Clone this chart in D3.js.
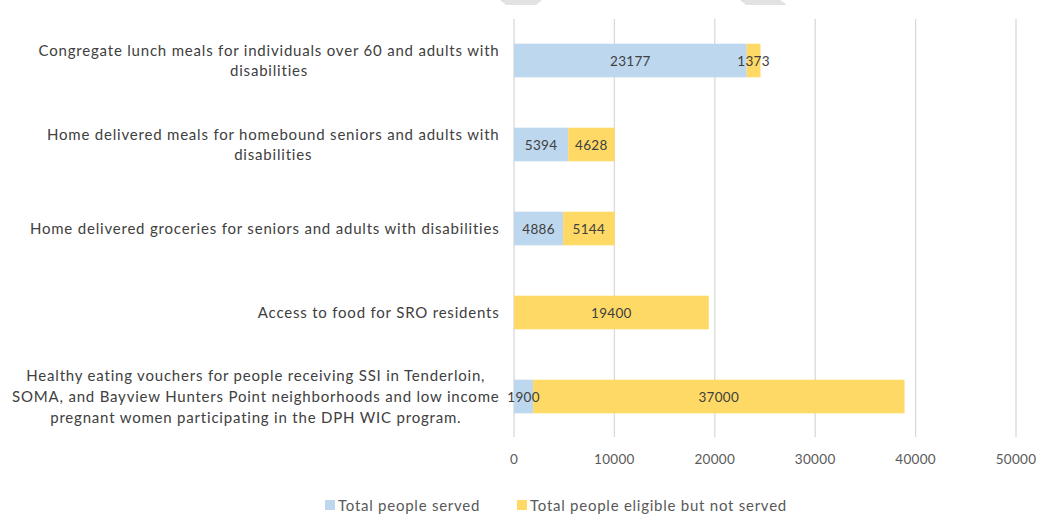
<!DOCTYPE html>
<html>
<head>
<meta charset="utf-8">
<script src="https://cdn.jsdelivr.net/npm/d3@7"></script>
<style>
  body { margin: 0; background: #fff; }
  svg { font-family: "Lato", "Open Sans", sans-serif; }
</style>
</head>
<body>
<svg id="chart" width="1047" height="518"></svg>
<script>
// categories, one array of lines per label
var categories = [
  ["Congregate lunch meals for individuals over 60 and adults with", "disabilities"],
  ["Home delivered meals for homebound seniors and adults with", "disabilities"],
  ["Home delivered groceries for seniors and adults with disabilities"],
  ["Access to food for SRO residents"],
  ["Healthy eating vouchers for people receiving SSI in Tenderloin,", "SOMA, and Bayview Hunters Point neighborhoods and low income", "pregnant women participating in the DPH WIC program."]
];
var served = [23177, 5394, 4886, 0, 1900];
var notServed = [1373, 4628, 5144, 19400, 37000];
var xTicks = [0, 10000, 20000, 30000, 40000, 50000];
var seriesNames = ["Total people served", "Total people eligible but not served"];
var colors = ["#BDD7EE", "#FFD966"];

var svg = d3.select("#chart");

// faint grey shapes at the top edge of the capture
svg.append("polygon").attr("points", "500,0 542,0 536,5 506,5").attr("fill", "#e2e2e2");
svg.append("polygon").attr("points", "740,0 780,0 787,5 746,5").attr("fill", "#e2e2e2");

var x = d3.scaleLinear().domain([0, 50000]).range([514, 1016]);
var y = d3.scaleBand().domain(d3.range(categories.length)).range([18.5, 438.5]).paddingInner(0.6).paddingOuter(0.3);

// gridlines
svg.append("g").selectAll("line")
  .data(xTicks)
  .enter().append("line")
  .attr("x1", function(d) { return x(d); })
  .attr("x2", function(d) { return x(d); })
  .attr("y1", 19)
  .attr("y2", 437)
  .attr("stroke", "#d9d9d9")
  .attr("stroke-width", 1.3);

// tick labels
svg.append("g").selectAll("text")
  .data(xTicks)
  .enter().append("text")
  .attr("x", function(d) { return x(d); })
  .attr("y", 464)
  .attr("text-anchor", "middle")
  .attr("font-size", 13.5)
  .attr("letter-spacing", 0.3)
  .attr("fill", "#595959")
  .text(function(d) { return d; });

// stacked bars
var rows = categories.map(function(c, i) {
  return [
    { i: i, x0: 0, x1: served[i], v: served[i], s: 0 },
    { i: i, x0: served[i], x1: served[i] + notServed[i], v: notServed[i], s: 1 }
  ];
});
var segs = [].concat.apply([], rows).filter(function(d) { return d.v > 0; });

svg.append("g").selectAll("rect")
  .data(segs)
  .enter().append("rect")
  .attr("x", function(d) { return x(d.x0); })
  .attr("width", function(d) { return x(d.x1) - x(d.x0); })
  .attr("y", function(d) { return y(d.i); })
  .attr("height", y.bandwidth())
  .attr("fill", function(d) { return colors[d.s]; });

svg.append("g").selectAll("text")
  .data(segs)
  .enter().append("text")
  .attr("x", function(d) { return (x(d.x0) + x(d.x1)) / 2; })
  .attr("y", function(d) { return y(d.i) + y.bandwidth() / 2 + 5; })
  .attr("text-anchor", "middle")
  .attr("font-size", 13.5)
  .attr("letter-spacing", 0.3)
  .attr("fill", "#404040")
  .text(function(d) { return d.v; });

// category labels: centered block, right edge at 500
var labels = svg.append("g");
categories.forEach(function(lines, i) {
  var g = labels.append("g");
  var lh = lines.length > 2 ? 21 : 20;
  var cy = y(i) + y.bandwidth() / 2;
  var t = g.selectAll("text")
    .data(lines)
    .enter().append("text")
    .attr("y", function(d, k) { return cy + 5 + (k - (lines.length - 1) / 2) * lh; })
    .attr("text-anchor", "middle")
    .attr("font-size", 15)
    .attr("letter-spacing", 0.8)
    .attr("fill", "#404040")
    .text(function(d) { return d; });
  var w = 0;
  t.each(function() { w = Math.max(w, this.getComputedTextLength()); });
  t.attr("x", 499.5 - w / 2);
});

// legend
var leg = svg.append("g");
var legX = [325, 517];
seriesNames.forEach(function(n, i) {
  leg.append("rect").attr("x", legX[i]).attr("y", 500).attr("width", 10).attr("height", 10).attr("fill", colors[i]);
  leg.append("text").attr("x", legX[i] + 13).attr("y", 511)
    .attr("font-size", 15).attr("letter-spacing", 0.75)
    .attr("fill", "#595959").text(n);
});
</script>
</body>
</html>
